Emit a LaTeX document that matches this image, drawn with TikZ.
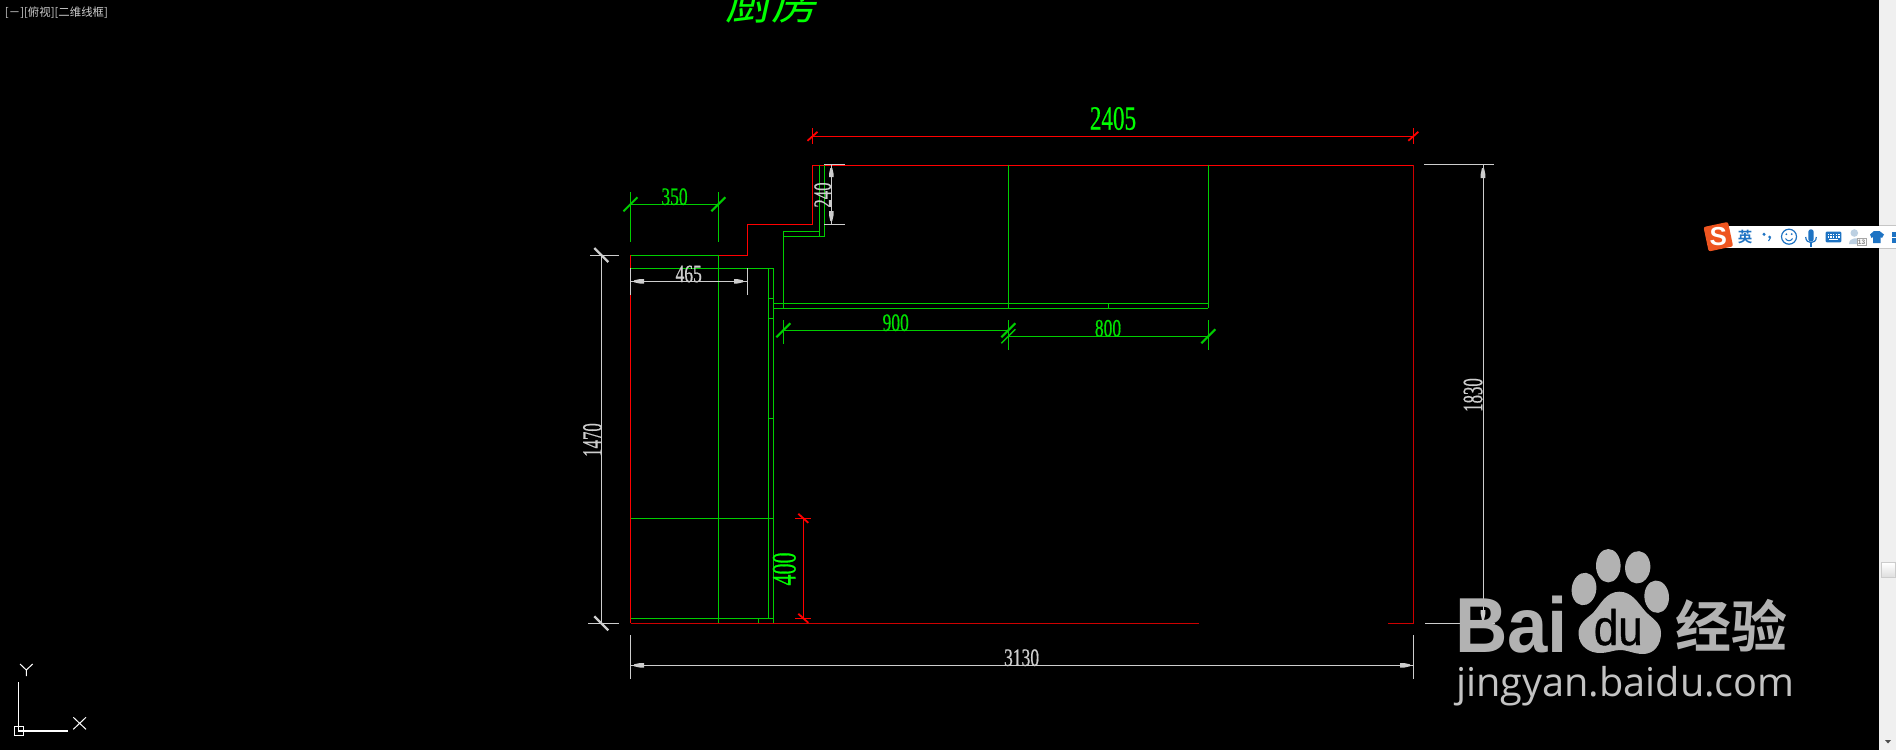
\documentclass[tikz,border=0pt]{standalone}
\usepackage{fontspec}
\setmainfont{Liberation Serif}
\newfontfamily\cjkfont{Noto Sans CJK SC}
\newfontfamily\cjkbold[BoldFont=*]{Noto Sans CJK SC Bold}
\newfontfamily\cjkslant[FakeSlant=0.22]{Noto Sans CJK SC}
\newfontfamily\sansfnt[FakeBold=0.8]{Liberation Sans}
\newfontfamily\sansbold{Liberation Sans Bold}
\newfontfamily\opensans{Open Sans}
\newfontfamily\cadfont[FakeBold=0.7]{Liberation Serif}
\definecolor{cadgreen}{RGB}{0,205,0}
\definecolor{txtgreen}{RGB}{0,225,0}
\definecolor{brightgreen}{RGB}{0,255,0}
\definecolor{cadred}{RGB}{255,0,0}
\definecolor{dimred}{RGB}{205,0,0}
\definecolor{cadgray}{RGB}{205,205,205}
\definecolor{wm}{RGB}{178,178,178}
\definecolor{wmlight}{RGB}{195,195,195}
\definecolor{imeblue}{RGB}{30,115,195}
\definecolor{barbg}{RGB}{240,240,240}
\newcommand{\dimlabel}[3]{\cadfont\fontsize{#1}{#1}\selectfont\scalebox{#2}[1]{#3}}
\newcommand{\gtick}[2]{\draw[cadgreen,line width=2pt] (#1-7,#2+7) -- (#1+7,#2-7);}
\newcommand{\rtick}[2]{\draw[cadred,line width=1.8pt] (#1-5,#2+4.5) -- (#1+5,#2-4.5);}
\newcommand{\rbtick}[2]{\draw[cadred,line width=1.8pt] (#1-5,#2-4.5) -- (#1+5,#2+4.5);}
\newcommand{\gyslash}[2]{\draw[cadgray,line width=2.4pt] (#1-7,#2-7) -- (#1+7,#2+7);}
\begin{document}
\begin{tikzpicture}[x=1pt,y=-1pt,line cap=butt,
  wall/.style={cadred,line width=1pt},
  dark/.style={dimred,line width=1pt},
  cab/.style={cadgreen,line width=1pt},
  dimg/.style={cadgray,line width=1pt},
  lab/.style={inner sep=0pt,outer sep=0pt},
  glab/.style={lab,text=txtgreen},
  wlab/.style={lab,text=cadgray},
  tip/.style={fill=cadgray,draw=none}]
\useasboundingbox (0,0) rectangle (1896,750);
\fill[black] (0,0) rectangle (1896,750);
\begin{scope}
\clip (0,0) rectangle (1896,750);

% title
\node[lab,text=brightgreen] (title) at (771.5,2) {\cjkslant\fontsize{46}{46}\selectfont 厨房};
% viewport label
\node[lab,anchor=west,text=cadgray] (view) at (5,13) {\cjkfont\fontsize{11.4}{12}\selectfont [－][俯视][二维线框]};

% walls
\draw[wall] (718.3,255) -- (747,255) -- (747,224.5) -- (812.5,224.5) -- (812.5,165) -- (1413.3,165);
\draw[dark] (1413.3,165) -- (1413.3,623.3) -- (1388,623.3);
\draw[wall] (630.5,255) -- (630.5,623.3);
\draw[dark] (630.5,623.3) -- (1199,623.3);

% cabinets
\draw[cab] (630.5,255) -- (718.3,255);
\draw[cab] (718.3,255) -- (718.3,623.3);
\draw[cab] (630.5,268.3) -- (773.3,268.3);
\draw[cab] (768.3,268.3) -- (768.3,618.3);
\draw[cab] (773.3,268.3) -- (773.3,623.3);
\draw[cab] (768.3,298.3) -- (773.3,298.3);
\draw[cab] (768.3,318.3) -- (773.3,318.3);
\draw[cab] (768.3,418.3) -- (773.3,418.3);
\draw[cab] (630.5,518.3) -- (773.3,518.3);
\draw[cab] (630.5,618.3) -- (773.3,618.3);
\draw[cab] (758.3,618.3) -- (758.3,623.3);
\draw[cab] (819.3,165) -- (819.3,236) ;
\draw[cab] (824.3,165) -- (824.3,236) -- (783.3,236);
\draw[cab] (819.3,231) -- (783.3,231) -- (783.3,308.3);
\draw[cab] (773.3,303.3) -- (1208.3,303.3);
\draw[cab] (773.3,308.3) -- (1208.3,308.3);
\draw[cab] (1008.3,165) -- (1008.3,308.3);
\draw[cab] (1208.3,165) -- (1208.3,308.3);
\draw[cab] (1108.3,303.3) -- (1108.3,308.3);

% 2405
\draw[wall] (812.5,136.3) -- (1413.3,136.3);
\draw[wall] (812.5,128) -- (812.5,144);
\draw[wall] (1413.3,128) -- (1413.3,144);
\rtick{812.5}{136.3}
\rtick{1413.3}{136.3}
\node[lab,text=brightgreen] (d2405) at (1113,118.5) {\dimlabel{34}{0.68}{2405}};

% 350
\draw[cab] (630.5,204.3) -- (718.3,204.3);
\draw[cab] (630.5,192) -- (630.5,242);
\draw[cab] (718.3,192) -- (718.3,242);
\gtick{630.5}{204.3}
\gtick{718.3}{204.3}
\node[glab] (d350) at (674.5,196.7) {\dimlabel{25}{0.7}{350}};

% 465
\draw[dimg] (630.5,281.3) -- (747,281.3);
\draw[dimg] (630.5,268.3) -- (630.5,295);
\draw[dimg] (747,268.3) -- (747,295);
\fill[tip] (634,280.3) -- (640,279) -- (644,279) -- (644,283.6) -- (640,283.6) -- (634,282.3) -- cycle;
\fill[tip] (743,280.3) -- (737,279) -- (734,279) -- (734,283.6) -- (737,283.6) -- (743,282.3) -- cycle;
\node[wlab] (d465) at (688.7,274) {\dimlabel{25}{0.7}{465}};

% 240
\draw[dimg] (831.3,164.3) -- (831.3,224.5);
\draw[dimg] (824.3,164.3) -- (845,164.3);
\draw[dimg] (824.3,224.5) -- (845,224.5);
\fill[tip] (830.3,168) -- (829,174) -- (829,177) -- (833.6,177) -- (833.6,174) -- (832.3,168) -- cycle;
\fill[tip] (830.3,221) -- (829,215) -- (829,211) -- (833.6,211) -- (833.6,215) -- (832.3,221) -- cycle;
\node[wlab,rotate=90] (d240) at (822.7,195) {\dimlabel{25}{0.67}{240}};

% 900 / 800
\draw[cab] (783.3,330.3) -- (1008.3,330.3);
\draw[cab] (783.3,320) -- (783.3,343.5);
\draw[cab] (1008.3,320) -- (1008.3,350);
\gtick{783.3}{330.3}
\gtick{1008.3}{330.3}
\node[glab] (d900) at (895.7,322.7) {\dimlabel{25}{0.7}{900}};
\draw[cab] (1008.3,336.3) -- (1208.3,336.3);
\draw[cab] (1208.3,320) -- (1208.3,350);
\draw[cadgreen,line width=1.5pt] (1001.3,343.3) -- (1015.3,329.3);
\gtick{1208.3}{336.3}
\node[glab] (d800) at (1108,328.3) {\dimlabel{25}{0.7}{800}};

% 400
\draw[wall] (803.3,518.3) -- (803.3,618.3);
\draw[wall] (795,518.3) -- (811,518.3);
\draw[wall] (795,618.3) -- (811,618.3);
\rbtick{803.3}{518.3}
\rbtick{803.3}{618.3}
\node[lab,text=brightgreen,rotate=90] (d400) at (784.3,569) {\dimlabel{34}{0.65}{400}};

% 1470
\draw[dimg] (601.3,255) -- (601.3,623.3);
\draw[dimg] (590,255) -- (619,255);
\draw[dimg] (588,623.3) -- (619,623.3);
\gyslash{601.3}{255}
\gyslash{601.3}{623.3}
\node[wlab,rotate=90] (d1470) at (592.5,440) {\dimlabel{28}{0.6}{1470}};

% 1830
\draw[dimg] (1483,164.5) -- (1483,623.3);
\draw[dimg] (1424,164.5) -- (1494,164.5);
\draw[dimg] (1425,623.3) -- (1495,623.3);
\fill[tip] (1482,168) -- (1480.7,174) -- (1480.7,178) -- (1485.3,178) -- (1485.3,174) -- (1484,168) -- cycle;
\fill[tip] (1482,620) -- (1480.7,614) -- (1480.7,610) -- (1485.3,610) -- (1485.3,614) -- (1484,620) -- cycle;
\node[wlab,rotate=90] (d1830) at (1473,395) {\dimlabel{28}{0.6}{1830}};

% 3130
\draw[dimg] (630.5,665.3) -- (1413.3,665.3);
\draw[dimg] (630.5,635) -- (630.5,678.5);
\draw[dimg] (1413.3,635) -- (1413.3,678.5);
\fill[tip] (634,664.3) -- (640,663) -- (644,663) -- (644,667.6) -- (640,667.6) -- (634,666.3) -- cycle;
\fill[tip] (1410,664.3) -- (1404,663) -- (1400,663) -- (1400,667.6) -- (1404,667.6) -- (1410,666.3) -- cycle;
\node[wlab] (d3130) at (1021.6,657.7) {\dimlabel{25}{0.7}{3130}};

% UCS icon
\draw[white,line width=1.1pt] (18.3,682) -- (18.3,731) -- (68,731);
\draw[white,line width=1.1pt] (14.5,726.2) rectangle (23.7,735.3);
\draw[white,line width=1pt] (20,664) -- (26.3,670) -- (32.7,664) (26.3,670) -- (26.3,676);
\draw[white,line width=1pt] (73.3,717.3) -- (86,729.3) (86,717.3) -- (73.3,729.3);

% watermark
\node[lab,anchor=base west,text=wm] (wmbai) at (1455,652.7) {\scalebox{0.93}[1]{\sansbold\fontsize{78}{78}\selectfont Bai}};
\fill[wm] (1584,589) ellipse[x radius=12.3,y radius=16.3,rotate=-8];
\fill[wm] (1608.3,565.7) ellipse[x radius=12.3,y radius=16.7];
\fill[wm] (1637.7,567.3) ellipse[x radius=12.6,y radius=16.2,rotate=-5];
\fill[wm] (1656.7,596.7) ellipse[x radius=12.3,y radius=16.2,rotate=5];
\fill[wm] (1619.3,591.7) .. controls (1606,591.7) and (1600,605) .. (1593,613)
  .. controls (1586,619) and (1578,624) .. (1578.5,634)
  .. controls (1579,647) and (1590,653) .. (1600,653)
  .. controls (1608,653) and (1614,650) .. (1620,650)
  .. controls (1628,650) and (1634,654) .. (1643,654)
  .. controls (1654,654) and (1661,645) .. (1661,633)
  .. controls (1661,622) and (1651,618) .. (1645,611)
  .. controls (1638,603) and (1632,591.7) .. (1619.3,591.7) -- cycle;
\node[lab,anchor=base,text=black] (wmdu) at (1618.3,645) {\scalebox{0.88}[1]{\sansfnt\fontsize{50}{50}\selectfont du}};
\node[lab,anchor=center,text=wm] (wmjy) at (1731,625.5) {\cjkbold\fontsize{56}{56}\selectfont 经验};
\node[lab,anchor=base west,text=wmlight] (wmurl) at (1456,696.7) {\opensans\fontsize{39.7}{40}\selectfont jingyan.baidu.com};

% scroll bar
\fill[barbg] (1879,0) rectangle (1896,750);
\draw[gray!40,line width=0.8pt] (1881.5,562.5) rectangle (1895,577);
\shade[top color=white,bottom color=gray!25] (1882,563) rectangle (1894.5,576.5);
\fill[black!70] (1885,740) -- (1891,740) -- (1888,743.5) -- cycle;

% IME bar
\fill[white] (1725,226) rectangle (1896,247.7);
\draw[gray!45,line width=0.8pt] (1879,225.6) -- (1896,225.6) (1879,248) -- (1896,248);
\begin{scope}[shift={(1718.3,236.7)},rotate=12]
  \fill[rounded corners=2pt,fill={rgb,255:red,238;green,85;blue,32}] (-12.5,-12.5) rectangle (12.5,12.5);
  \node[lab,text=white] (imes) at (0,0) {\sansbold\fontsize{26}{26}\selectfont S};
\end{scope}
\node[lab,text=imeblue] (imeying) at (1745,236.7) {\cjkbold\fontsize{14.5}{15}\selectfont 英};
\fill[imeblue] (1764,234.3) circle[radius=1.7];
\fill[imeblue] (1769.5,237) circle[radius=1.5];
\draw[imeblue,line width=1pt] (1770.6,237.5) -- (1768.5,241);
\draw[imeblue,line width=1.2pt] (1789,236.7) circle[radius=7.5];
\fill[imeblue] (1786.3,234.2) circle[radius=1] (1791.7,234.2) circle[radius=1];
\draw[imeblue,line width=1pt] (1785.5,238.5) .. controls (1787,241.5) and (1791,241.5) .. (1792.5,238.5);
\fill[imeblue,rounded corners=2.6pt] (1808.3,229.3) rectangle (1813.7,241.7);
\draw[imeblue,line width=1.2pt] (1805.7,237) .. controls (1805.7,244.5) and (1816.3,244.5) .. (1816.3,237);
\draw[imeblue,line width=1.3pt] (1811,243) -- (1811,246.5);
\fill[imeblue,rounded corners=1pt] (1825.7,231.7) rectangle (1841.3,242.3);
\foreach \kx in {1827.6,1830.3,1833,1835.7,1838.4}{
  \fill[white] (\kx,233.6) rectangle (\kx+1.4,235);
  \fill[white] (\kx,236.1) rectangle (\kx+1.4,237.5);
}
\fill[white] (1829,239) rectangle (1838,240.4);
\fill[gray!35!imeblue!35] (1854.3,233) circle[radius=3.8];
\fill[gray!35!imeblue!35] (1849,244) .. controls (1849,237) and (1859.5,237) .. (1860,240) -- (1860,244) -- cycle;
\fill[white] (1857,238.5) rectangle (1866,245);
\draw[gray!70,line width=0.6pt] (1857,238.5) rectangle (1866,245);
\node[lab,text=gray] (ime13) at (1861.5,241.8) {\sansbold\fontsize{6.5}{7}\selectfont 13};
\fill[imeblue] (1874,231) -- (1879.5,231) -- (1884,234.5) -- (1882,238) -- (1880.5,237) -- (1880.5,243) -- (1873,243) -- (1873,237) -- (1871.5,238) -- (1870,234.5) -- cycle;
\fill[imeblue] (1891.7,231.7) rectangle (1896,236.7);
\fill[imeblue] (1891.7,238.3) rectangle (1896,243.3);
\end{scope}
\end{tikzpicture}
\end{document}
